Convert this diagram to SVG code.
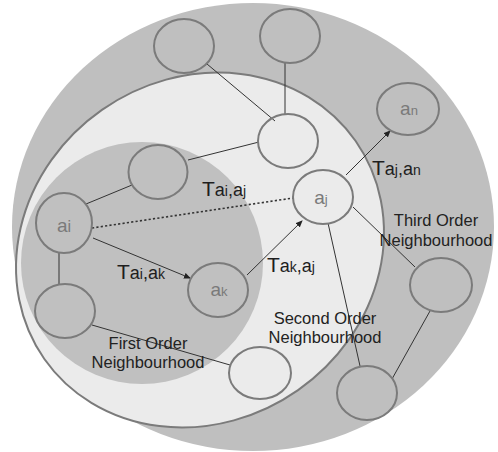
<svg xmlns="http://www.w3.org/2000/svg" width="498" height="452" viewBox="0 0 498 452">
<defs>
<style>
.node{fill:none;stroke:#7b7b7b;stroke-width:2}
.edge{stroke:#333;stroke-width:1;fill:none}
.dot{stroke:#333;stroke-width:1.6;stroke-dasharray:2.2,2.2;fill:none}
.lbl{font-family:"Liberation Sans",Arial,sans-serif;fill:#7a7a7a;text-anchor:middle}
.la{font-size:19px}
.ls{font-size:13px}
.t{font-family:"Liberation Sans",Arial,sans-serif;fill:#1e1e1e}
.T{font-size:21px}
.a{font-size:18px}
.s{font-size:14px}
.nb{font-family:"Liberation Sans",Arial,sans-serif;font-size:16.5px;fill:#222;text-anchor:middle}
</style>
<marker id="arr" markerUnits="userSpaceOnUse" markerWidth="7" markerHeight="6" refX="6" refY="3" orient="auto">
<path d="M0,0 L7,3 L0,6 z" fill="#222"/>
</marker>
</defs>
<g id="regions">
<ellipse cx="253" cy="227" rx="241" ry="224" fill="#bfbfbf"/>
<ellipse cx="200" cy="250" rx="190" ry="171" transform="rotate(-35 200 250)" fill="#ebebeb" stroke="#7b7b7b" stroke-width="2"/>
<circle cx="142" cy="263" r="121" fill="#c0c0c0"/>
</g>
<g id="connectors">
<line class="edge" x1="207" y1="64" x2="275" y2="121"/>
<line class="edge" x1="285" y1="63" x2="285" y2="115"/>
<line class="edge" x1="188" y1="160" x2="259" y2="142"/>
<line class="edge" x1="86" y1="204" x2="132" y2="185"/>
<line class="dot" x1="92" y1="228" x2="293" y2="198"/>
<line class="edge" x1="346" y1="175" x2="390" y2="131" marker-end="url(#arr)"/>
<line class="edge" x1="93" y1="238" x2="190" y2="278" marker-end="url(#arr)"/>
<line class="edge" x1="247" y1="275" x2="302" y2="221" marker-end="url(#arr)"/>
<line class="edge" x1="353" y1="207" x2="415" y2="267"/>
<line class="edge" x1="328" y1="223" x2="360" y2="366"/>
<line class="edge" x1="392" y1="379" x2="430" y2="311"/>
<line class="edge" x1="59" y1="253" x2="59" y2="284"/>
<line class="edge" x1="92" y1="325" x2="230" y2="365"/>
</g>
<g id="n_top1"><ellipse class="node" cx="184" cy="46" rx="30" ry="27"/></g>
<g id="n_top2"><ellipse class="node" cx="290" cy="36" rx="30" ry="27"/></g>
<g id="n_mid"><ellipse class="node" cx="288" cy="141" rx="30" ry="27"/></g>
<g id="n_an"><ellipse class="node" cx="408" cy="109" rx="31" ry="26"/>
<text class="lbl" x="409" y="115"><tspan class="la">a</tspan><tspan class="ls">n</tspan></text></g>
<g id="n_left"><ellipse class="node" cx="158" cy="172" rx="29.5" ry="27"/></g>
<g id="n_aj"><ellipse class="node" cx="323" cy="197" rx="30" ry="27"/>
<text class="lbl" x="321" y="204"><tspan class="la">a</tspan><tspan class="ls">j</tspan></text></g>
<g id="n_ai"><ellipse class="node" cx="64" cy="223" rx="28" ry="30"/>
<text class="lbl" x="64" y="232"><tspan class="la">a</tspan><tspan class="la" style="font-size:16px">i</tspan></text></g>
<g id="n_ak"><ellipse class="node" cx="218" cy="290" rx="30" ry="27"/>
<text class="lbl" x="219" y="296"><tspan class="la">a</tspan><tspan class="ls">k</tspan></text></g>
<g id="n_ll"><ellipse class="node" cx="65" cy="311" rx="30" ry="27"/></g>
<g id="n_bw"><ellipse class="node" cx="260" cy="373" rx="31" ry="26"/></g>
<g id="n_r"><ellipse class="node" cx="441" cy="285" rx="31" ry="27"/></g>
<g id="n_br"><ellipse class="node" cx="367" cy="393" rx="30" ry="27"/></g>
<g id="labels">
<text class="t" x="202" y="196"><tspan class="T">T</tspan><tspan class="a">a</tspan><tspan class="s">i</tspan><tspan class="a">,a</tspan><tspan class="s">j</tspan></text>
<text class="t" x="372" y="175"><tspan class="T">T</tspan><tspan class="a">a</tspan><tspan class="s">j</tspan><tspan class="a">,a</tspan><tspan class="s">n</tspan></text>
<text class="t" x="117" y="279"><tspan class="T">T</tspan><tspan class="a">a</tspan><tspan class="s">i</tspan><tspan class="a">,a</tspan><tspan class="s">k</tspan></text>
<text class="t" x="267" y="272"><tspan class="T">T</tspan><tspan class="a">a</tspan><tspan class="s">k</tspan><tspan class="a">,a</tspan><tspan class="s">j</tspan></text>
<text class="nb" x="436" y="226">Third Order</text>
<text class="nb" x="436" y="246">Neighbourhood</text>
<text class="nb" x="325" y="324">Second Order</text>
<text class="nb" x="325" y="343">Neighbourhood</text>
<text class="nb" x="148" y="349">First Order</text>
<text class="nb" x="148" y="368">Neighbourhood</text>
</g>
</svg>
